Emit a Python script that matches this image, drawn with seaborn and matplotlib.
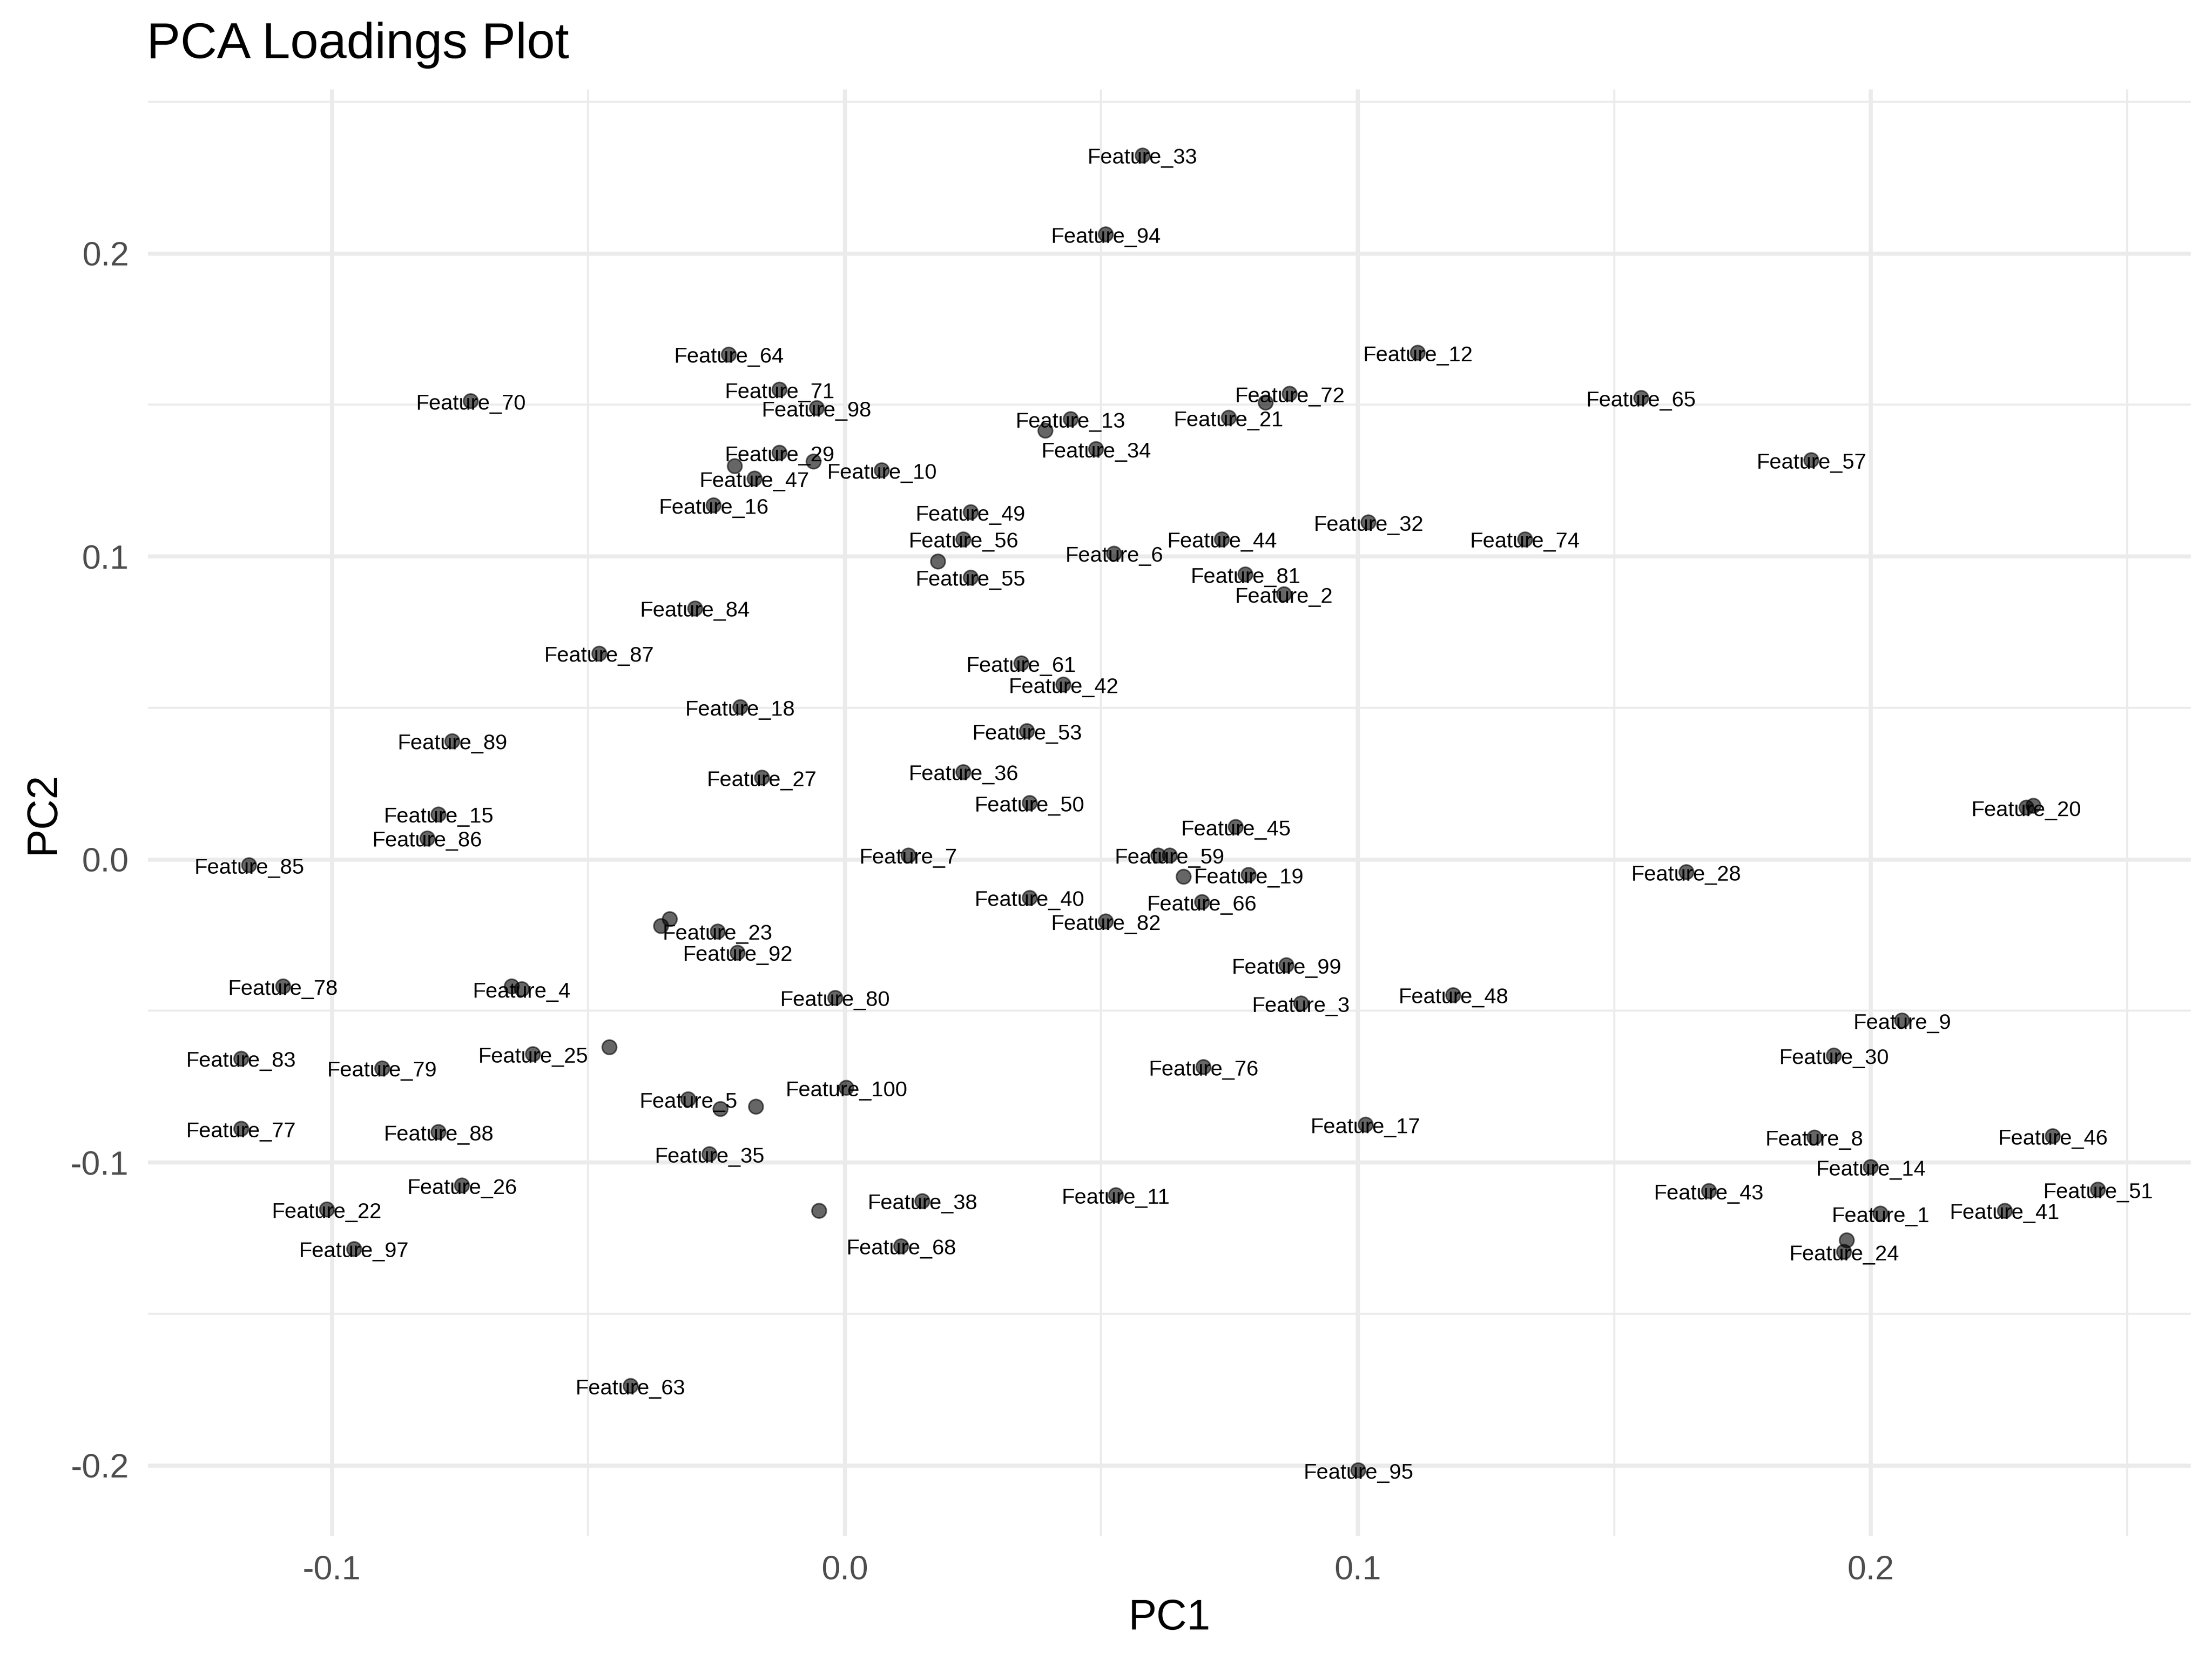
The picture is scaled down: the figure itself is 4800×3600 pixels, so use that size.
import numpy as np
import pandas as pd
import matplotlib
matplotlib.use("Agg")
import matplotlib.pyplot as plt
from matplotlib.ticker import MultipleLocator, FuncFormatter
import seaborn as sns

# ---- data ----
feature_ids = list(range(1, 101))
pc1 = [
    0.2019, 0.0856, 0.0889, -0.0630, -0.0305, 0.0525, 0.0124, 0.1890, 0.2061, 0.0072,
    0.0528, 0.1117, 0.0440, 0.2000, -0.0792, -0.0256, 0.1015, -0.0204, 0.0787, 0.2303,
    0.0748, -0.1010, -0.0248, 0.1948, -0.0608, -0.0746, -0.0162, 0.1640, -0.0127, 0.1928,
    0.0820, 0.1021, 0.0580, 0.0490, -0.0264, 0.0231, -0.0061, 0.0151, -0.0215, 0.0360,
    0.2261, 0.0426, 0.1684, 0.0735, 0.0762, 0.2355, -0.0176, 0.1186, 0.0245, 0.0360,
    0.2443, 0.0391, 0.0355, 0.0182, 0.0245, 0.0231, 0.1884, 0.2317, 0.0633, 0.0611,
    0.0344, 0.0660, -0.0418, -0.0226, 0.1552, 0.0696, -0.0341, 0.0110, -0.0358, -0.0729,
    -0.0127, 0.0867, -0.0649, 0.1326, -0.0459, 0.0699, -0.1177, -0.1095, -0.0902, -0.0019,
    0.0781, 0.0509, -0.1177, -0.0292, -0.1161, -0.0814, -0.0479, -0.0792, -0.0765, -0.0173,
    -0.0242, -0.0209, -0.0050, 0.0509, 0.1001, 0.1953, -0.0957, -0.0055, 0.0861, 0.0003,
]
pc2 = [
    -0.1169, 0.0875, -0.0475, -0.0428, -0.0792, 0.1010, 0.0014, -0.0917, -0.0531, 0.1285,
    -0.1108, 0.1672, 0.1453, -0.1015, 0.0149, 0.1169, -0.0875, 0.0503, -0.0051, 0.0171,
    0.1458, -0.1155, -0.0237, -0.1295, -0.0643, -0.1076, 0.0270, -0.0042, 0.1342, -0.0647,
    0.1509, 0.1113, 0.2324, 0.1355, -0.0973, 0.0289, 0.1313, -0.1127, 0.1299, -0.0126,
    -0.1159, 0.0577, -0.1094, 0.1057, 0.0107, -0.0913, 0.1257, -0.0447, 0.1146, 0.0186,
    -0.1090, 0.1416, 0.0424, 0.0983, 0.0931, 0.1057, 0.1318, 0.0177, 0.0014, 0.0014,
    0.0647, -0.0056, -0.1737, 0.1667, 0.1523, -0.0140, -0.0196, -0.1276, -0.0219, 0.1513,
    0.1551, 0.1537, -0.0419, 0.1057, -0.0619, -0.0685, -0.0889, -0.0419, -0.0689, -0.0456,
    0.0941, -0.0205, -0.0657, 0.0829, -0.0019, 0.0070, 0.0680, -0.0899, 0.0391, -0.0815,
    -0.0824, -0.0307, -0.1159, 0.2063, -0.2016, -0.1257, -0.1285, 0.1490, -0.0349, -0.0754,
]
# labels that are not drawn in the reference (suppressed because of overlap)
hidden_labels = [31, 37, 39, 52, 54, 58, 60, 62, 67, 69, 73, 75, 90, 91, 93, 96]

title_text = "PCA Loadings Plot"
x_label = "PC1"
y_label = "PC2"

df = pd.DataFrame({
    "feature": [f"Feature_{i}" for i in feature_ids],
    "id": feature_ids,
    "PC1": pc1,
    "PC2": pc2,
})

# ---- style ----
sns.set_theme(style="white")
plt.rcParams["font.family"] = ["Liberation Sans", "DejaVu Sans"]
plt.rcParams["axes.unicode_minus"] = False

fig = plt.figure(figsize=(16, 12), dpi=300)
ax = fig.add_axes([0.0669, 0.0742, 0.9904 - 0.0669, 0.9461 - 0.0742])

sns.scatterplot(
    data=df, x="PC1", y="PC2", ax=ax,
    s=56, color="black", alpha=0.6, edgecolor="black", linewidth=0.8,
    legend=False, zorder=3,
)

for _, row in df.iterrows():
    if row["id"] in hidden_labels:
        continue
    ax.annotate(
        row["feature"], (row["PC1"], row["PC2"]),
        xytext=(0, -4.5), textcoords="offset points",
        ha="center", va="baseline", fontsize=11.2, color="black", zorder=4,
    )

# limits with 5% expansion (like ggplot)
xr = df["PC1"].max() - df["PC1"].min()
yr = df["PC2"].max() - df["PC2"].min()
ax.set_xlim(df["PC1"].min() - 0.05 * xr, df["PC1"].max() + 0.05 * xr)
ax.set_ylim(df["PC2"].min() - 0.05 * yr, df["PC2"].max() + 0.05 * yr)

# grid
ax.xaxis.set_major_locator(MultipleLocator(0.1))
ax.yaxis.set_major_locator(MultipleLocator(0.1))
ax.xaxis.set_minor_locator(MultipleLocator(0.05))
ax.yaxis.set_minor_locator(MultipleLocator(0.05))
fmt = FuncFormatter(lambda v, p: f"{0.0 if abs(v) < 1e-9 else v:.1f}")
ax.xaxis.set_major_formatter(fmt)
ax.yaxis.set_major_formatter(fmt)
ax.grid(which="major", color="#EBEBEB", linewidth=2.13, zorder=0)
ax.grid(which="minor", color="#EBEBEB", linewidth=1.07, zorder=0)
ax.set_axisbelow(True)
for sp in ax.spines.values():
    sp.set_visible(False)
ax.tick_params(which="both", length=0)
ax.tick_params(axis="both", which="major", labelsize=17.6, labelcolor="#4D4D4D", pad=10)

# axis titles
ax.set_xlabel(x_label, fontsize=22, color="black")
ax.set_ylabel(y_label, fontsize=22, color="black")
ax.xaxis.set_label_coords(0.5, -0.0647)
ax.xaxis.label.set_va("baseline")
ax.yaxis.label.set(rotation_mode="anchor", va="baseline", ha="center")
ax.yaxis.set_label_coords(-0.046, 0.5)

# title
fig.text(0.0662, 0.965, title_text, fontsize=26.4, color="black", ha="left", va="baseline")

fig.savefig("out.png", dpi=300, facecolor="white")
